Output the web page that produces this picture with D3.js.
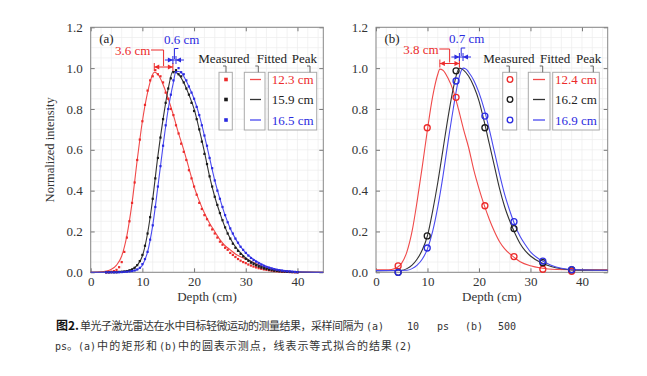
<!DOCTYPE html>
<html><head><meta charset="utf-8">
<script src="https://cdn.jsdelivr.net/npm/d3@7"></script>
<style>body{margin:0;background:#fff}svg{display:block}
.serif{font-family:"Liberation Serif","Times New Roman",Times,serif}
</style>
</head><body><svg id="c" width="647" height="376"></svg>
<script>
// ---------- DATA ----------
const xTicks = [0, 10, 20, 30, 40];
const yTicks = [0.0, 0.2, 0.4, 0.6, 0.8, 1.0, 1.2];
const seriesNames = ["red", "black", "blue"];
const peaksA = [12.3, 15.9, 16.5];
const peaksB = [12.4, 16.2, 16.9];
const peakLabelsA = ["12.3 cm", "15.9 cm", "16.5 cm"];
const peakLabelsB = ["12.4 cm", "16.2 cm", "16.9 cm"];
const diffLabelsA = ["3.6 cm", "0.6 cm"];
const diffLabelsB = ["3.8 cm", "0.7 cm"];

// panel (a) fitted curves
const fitRedA_x = [0,2,3,4,5,6,7,8,9,10,11,12,12.3,13,14,15,16,17,18,19,20,21,22,23,24,25,26,27,28,30,32,34,36,38,40,45];
const fitRedA_y = [0,0.002,0.006,0.015,0.035,0.08,0.18,0.34,0.55,0.74,0.88,0.97,0.98,0.97,0.92,0.85,0.77,0.68,0.6,0.51,0.42,0.35,0.29,0.24,0.2,0.16,0.13,0.11,0.09,0.065,0.042,0.025,0.012,0.005,0.002,0];
const fitBlackA_x = [0,4,6,7,8,9,10,11,12,13,14,15,15.9,17,18,19,20,21,22,23,24,25,26,27,28,29,30,32,34,36,38,40,45];
const fitBlackA_y = [0,0.001,0.004,0.008,0.015,0.035,0.08,0.19,0.36,0.57,0.75,0.9,0.985,0.97,0.93,0.87,0.8,0.7,0.59,0.47,0.37,0.29,0.22,0.165,0.125,0.095,0.07,0.04,0.02,0.01,0.005,0.002,0];
const fitBlueA_x = [0,5,7,8,9,10,11,12,13,14,15,16,16.5,17.5,18,19,20,21,22,23,24,25,26,27,28,29,30,32,34,36,38,40,45];
const fitBlueA_y = [0,0.001,0.003,0.006,0.012,0.035,0.1,0.23,0.42,0.62,0.8,0.93,0.985,0.98,0.96,0.91,0.85,0.77,0.67,0.56,0.45,0.36,0.28,0.215,0.165,0.125,0.095,0.055,0.03,0.015,0.007,0.003,0];

// panel (a) measured (10 ps sampling)
const measA_x = [3,3.5,4,4.5,5,5.5,6,6.5,7,7.5,8,8.5,9,9.5,10,10.5,11,11.5,12,12.5,13,13.5,14,14.5,15,15.5,16,16.5,17,17.5,18,18.5,19,19.5,20,20.5,21,21.5,22,22.5,23,23.5,24,24.5,25,25.5,26,26.5,27,27.5,28,28.5,29,29.5,30,30.5,31,31.5,32,32.5,33,33.5,34,34.5,35,35.5,36,36.5,37,37.5,38,38.5,39,39.5,40];
const measRedA = [0,0,0.003,0.006,0.012,0.025,0.05,0.1,0.17,0.25,0.34,0.44,0.55,0.65,0.74,0.82,0.89,0.94,0.96,0.99,0.97,0.96,0.93,0.88,0.85,0.8,0.77,0.72,0.68,0.63,0.59,0.55,0.5,0.46,0.42,0.38,0.34,0.31,0.28,0.26,0.23,0.21,0.19,0.17,0.15,0.135,0.12,0.11,0.095,0.085,0.075,0.065,0.057,0.05,0.045,0.038,0.033,0.028,0.024,0.02,0.017,0.014,0.012,0.01,0.008,0.006,0.005,0.004,0.003,0.002,0.002,0.001,0.001,0,0];
const measBlackA = [0,0,0,0,0,0.002,0.003,0.004,0.006,0.009,0.014,0.022,0.035,0.055,0.085,0.13,0.19,0.27,0.36,0.46,0.56,0.66,0.75,0.83,0.9,0.95,0.98,0.99,0.97,0.96,0.93,0.9,0.87,0.83,0.79,0.75,0.7,0.64,0.58,0.53,0.47,0.42,0.37,0.33,0.29,0.255,0.22,0.19,0.165,0.14,0.12,0.105,0.09,0.078,0.066,0.056,0.047,0.04,0.034,0.028,0.023,0.019,0.016,0.013,0.01,0.008,0.007,0.005,0.004,0.003,0.002,0.002,0.001,0.001,0];
const measBlueA = [0,0,0,0,0,0,0.001,0.002,0.003,0.004,0.006,0.009,0.014,0.022,0.04,0.065,0.1,0.16,0.23,0.32,0.42,0.52,0.62,0.72,0.8,0.87,0.94,0.98,1.0,0.98,0.97,0.94,0.91,0.88,0.85,0.81,0.77,0.72,0.67,0.62,0.56,0.51,0.45,0.4,0.36,0.32,0.28,0.245,0.215,0.19,0.165,0.145,0.125,0.11,0.095,0.082,0.07,0.06,0.052,0.044,0.037,0.031,0.026,0.022,0.018,0.015,0.012,0.01,0.008,0.006,0.005,0.004,0.003,0.002,0.001];

// panel (b) fitted curves
const fitRedB_x = [0,3,4,5,6,7,8,9,10,11,12,12.4,13,14,15,16,17,18,19,20,21,22,23,24,25,26,27,28,30,32,35,40,45];
const fitRedB_y = [0.012,0.014,0.022,0.045,0.1,0.2,0.35,0.52,0.7,0.86,0.97,0.995,0.99,0.95,0.89,0.8,0.7,0.61,0.5,0.41,0.33,0.26,0.2,0.15,0.115,0.09,0.07,0.052,0.032,0.021,0.014,0.012,0.012];
const fitBlackB_x = [0,5,6,7,8,9,10,11,12,13,14,15,16.2,17,18,19,20,21,22,23,24,25,26,27,28,29,30,32,34,36,38,45];
const fitBlackB_y = [0.008,0.01,0.018,0.035,0.065,0.11,0.18,0.3,0.44,0.6,0.76,0.9,1.0,0.99,0.96,0.91,0.84,0.74,0.63,0.52,0.41,0.32,0.25,0.19,0.14,0.105,0.08,0.048,0.028,0.017,0.012,0.01];
const fitBlueB_x = [0,6,7,8,9,10,11,12,13,14,15,16,16.9,17.5,18,19,20,21,22,23,24,25,26,27,28,29,30,32,34,36,38,45];
const fitBlueB_y = [0.008,0.01,0.018,0.035,0.065,0.115,0.2,0.32,0.47,0.64,0.8,0.94,1.0,0.995,0.98,0.94,0.88,0.8,0.7,0.59,0.48,0.38,0.3,0.23,0.175,0.135,0.1,0.06,0.035,0.02,0.014,0.01];

// panel (b) measured (500 ps sampling)
const measB_x = [4.3, 9.95, 15.55, 21.15, 26.8, 32.4, 38.0];
const measRedB = [0.031, 0.708, 0.857, 0.326, 0.077, 0.015, 0.005];
const measBlackB = [0.0, 0.178, 0.987, 0.708, 0.214, 0.047, 0.012];
const measBlueB = [0.0, 0.119, 0.937, 0.765, 0.248, 0.055, 0.013];

// caption segments: [text, kind]
const captionLine1 = [["图2.", "bold"], ["单光子激光雷达在水中目标轻微运动的测量结果，采样间隔为", "cjk"], ["(a)", "lat"], ["10", "lat"], ["ps", "lat"], ["(b)", "lat"], ["500", "lat"]];
const captionLine2 = [["ps", "lat"], ["。", "cjk"], ["(a)", "lat"], ["中的矩形和", "cjk"], ["(b)", "lat"], ["中的圆表示测点，线表示等式拟合的结果", "cjk"], ["(2)", "lat"]];

// ---------- STYLE ----------
const colors = {red: "#ec2b2b", black: "#1a1a1a", blue: "#2b2be0"};
const fitColors = {red: "#f04a4a", black: "#333333", blue: "#4a4af0"};
const serifFam = '"Liberation Serif","Times New Roman",Times,serif';
const cjk = '"Noto Sans CJK SC","Noto Sans",sans-serif';
const mono = '"DejaVu Sans Mono","Liberation Mono",monospace';

const svg = d3.select("#c");
const zip = (xs, ys) => xs.map((v, i) => [v, ys[i]]);
const stext = (sel) => sel.attr("class", "serif").style("font-family", serifFam).style("font-size", "13px");

const y = d3.scaleLinear().domain([0, 1.2]).range([272.3, 27.3]);

function panel(opts) {
  const x = d3.scaleLinear().domain([0, 45]).range([opts.x0, opts.x1]);
  const g = svg.append("g");
  const gx = d3.range(0, 45.01, 2);
  const gy = d3.range(0, 1.2001, 0.05);
  g.selectAll(".gx").data(gx).join("line")
    .attr("x1", d => x(d)).attr("x2", d => x(d)).attr("y1", y(0)).attr("y2", y(1.2))
    .attr("stroke", "#ececec").attr("stroke-width", 0.7);
  g.selectAll(".gy").data(gy).join("line")
    .attr("y1", d => y(d)).attr("y2", d => y(d)).attr("x1", x(0)).attr("x2", x(45))
    .attr("stroke", "#ececec").attr("stroke-width", 0.7);

  const ax = g.append("g").attr("transform", `translate(0,${y(0)})`)
    .call(d3.axisBottom(x).tickValues(xTicks).tickSize(-4).tickPadding(4).tickFormat(d3.format("d")));
  const axT = g.append("g").attr("transform", `translate(0,${y(1.2)})`)
    .call(d3.axisTop(x).tickValues(xTicks).tickSize(-4).tickFormat(""));
  const ay = g.append("g").attr("transform", `translate(${x(0)},0)`)
    .call(d3.axisLeft(y).tickValues(yTicks).tickSize(-4).tickPadding(8).tickFormat(d3.format(".1f")));
  const ayR = g.append("g").attr("transform", `translate(${x(45)},0)`)
    .call(d3.axisRight(y).tickValues(yTicks).tickSize(-4).tickFormat(""));
  [ax, axT, ay, ayR].forEach(a => {
    a.attr("font-family", null).attr("font-size", null);
    a.select(".domain").remove();
    a.selectAll(".tick line").attr("stroke", "#777");
    stext(a.selectAll("text")).attr("fill", "#333");
  });
  g.append("rect").attr("x", x(0)).attr("y", y(1.2)).attr("width", x(45) - x(0)).attr("height", y(0) - y(1.2))
    .attr("fill", "none").attr("stroke", "#888").attr("stroke-width", 1);

  stext(g.append("text")).attr("x", (x(0) + x(45)) / 2).attr("y", 301).attr("text-anchor", "middle")
    .attr("fill", "#333").text("Depth (cm)");
  if (opts.showY) {
    stext(g.append("text")).attr("transform", `translate(54,${(y(0) + y(1.2)) / 2}) rotate(-90)`)
      .attr("text-anchor", "middle").attr("fill", "#333").style("font-size", "12.5px")
      .text("Normalized intensity");
  }
  stext(g.append("text")).attr("x", x(0) + 8.5).attr("y", 42.5).attr("fill", "#222").text(opts.tag);

  const line = d3.line().x(d => x(d[0])).y(d => y(d[1])).curve(d3.curveMonotoneX);
  const plotG = g.append("g");
  seriesNames.forEach((s, i) => {
    plotG.append("path").datum(opts.fits[i]).attr("d", line).attr("fill", "none")
      .attr("stroke", fitColors[s]).attr("stroke-width", 1.1);
  });
  seriesNames.forEach((s, i) => {
    if (opts.square) {
      plotG.selectAll(null).data(opts.meas[i]).join("rect")
        .attr("x", d => x(d[0]) - 1.1).attr("y", d => y(d[1]) - 1.1).attr("width", 2.2).attr("height", 2.2)
        .attr("fill", colors[s]);
    } else {
      plotG.selectAll(null).data(opts.meas[i]).join("circle")
        .attr("cx", d => x(d[0])).attr("cy", d => y(d[1])).attr("r", 3)
        .attr("fill", "none").attr("stroke", colors[s]).attr("stroke-width", 1.3);
    }
  });

  // annotations
  const p = opts.peaks;
  const ar = opts.annot;
  const xa = x(p[0]), xb = x(p[1]), xc = x(p[2]);
  const ag = g.append("g");
  ag.append("line").attr("x1", xa).attr("x2", xb).attr("y1", ar.ry).attr("y2", ar.ry).attr("stroke", colors.red).attr("stroke-width", 1);
  [[xa, -1], [xb, 1]].forEach(([px, dir]) => {
    ag.append("path").attr("d", `M${px},${ar.ry} L${px - dir * 5},${ar.ry - 2.5} L${px - dir * 5},${ar.ry + 2.5} Z`).attr("fill", colors.red);
    ag.append("line").attr("x1", px).attr("x2", px).attr("y1", ar.ry - 4).attr("y2", ar.ry + 4).attr("stroke", colors.red).attr("stroke-width", 1);
  });
  const xm = x((p[0] + p[1]) / 2);
  stext(ag.append("text")).attr("x", ar.rtx).attr("y", ar.rty).attr("fill", colors.red).text(opts.diffs[0]);
  ag.append("path").attr("d", `M${ar.rtx + 36},${ar.rty - 4.5} H${xm} V${ar.ry - 1}`).attr("fill", "none").attr("stroke", colors.red).attr("stroke-width", 1);
  ag.append("line").attr("x1", xb - 8).attr("x2", xc + 8).attr("y1", ar.by).attr("y2", ar.by).attr("stroke", colors.blue).attr("stroke-width", 1);
  [[xb, 1], [xc, -1]].forEach(([px, dir]) => {
    ag.append("path").attr("d", `M${px},${ar.by} L${px - dir * 5},${ar.by - 2.5} L${px - dir * 5},${ar.by + 2.5} Z`).attr("fill", colors.blue);
    ag.append("line").attr("x1", px).attr("x2", px).attr("y1", ar.by - 4).attr("y2", ar.by + 4).attr("stroke", colors.blue).attr("stroke-width", 1);
  });
  const xm2 = x((p[1] + p[2]) / 2);
  stext(ag.append("text")).attr("x", ar.btx).attr("y", ar.bty).attr("fill", colors.blue).text(opts.diffs[1]);
  ag.append("path").attr("d", `M${xm2 + 4},${ar.bty + 5} H${xm2} V${ar.by - 1}`).attr("fill", "none").attr("stroke", colors.blue).attr("stroke-width", 1);

  // legend
  const L = opts.leg;
  const lg = g.append("g");
  const heads = [["Measured", L.h[0]], ["Fitted", L.h[1]], ["Peak", L.h[2]]];
  heads.forEach(([t, hx]) => stext(lg.append("text")).attr("x", hx).attr("y", 63).attr("fill", "#222").text(t));
  L.boxes.forEach(([bx0, bx1]) => lg.append("rect").attr("x", bx0).attr("y", 72.3).attr("width", bx1 - bx0)
    .attr("height", 57.7).attr("fill", "#fff").attr("stroke", "#aaa").attr("stroke-width", 1));
  L.br.forEach(bx => lg.append("path").attr("d", `M${bx - 3},66 H${bx} V72.3`).attr("fill", "none").attr("stroke", "#666").attr("stroke-width", 1));
  const rows = [79.5, 99.5, 120];
  seriesNames.forEach((s, i) => {
    if (opts.square) {
      lg.append("rect").attr("x", L.mx - 1.8).attr("y", rows[i] - 1.8).attr("width", 3.6).attr("height", 3.6).attr("fill", colors[s]);
    } else {
      lg.append("circle").attr("cx", L.mx).attr("cy", rows[i]).attr("r", 2.8).attr("fill", "none").attr("stroke", colors[s]).attr("stroke-width", 1.3);
    }
    lg.append("line").attr("x1", L.l0).attr("x2", L.l1).attr("y1", rows[i]).attr("y2", rows[i]).attr("stroke", fitColors[s]).attr("stroke-width", 1.3);
    stext(lg.append("text")).attr("x", L.tx).attr("y", rows[i] + 4.5)
      .attr("fill", s === "black" ? "#222" : colors[s]).text(opts.peakLabels[i]);
  });
}

panel({
  x0: 90.7, x1: 323.3, showY: true, tag: "(a)", square: true,
  fits: [zip(fitRedA_x, fitRedA_y), zip(fitBlackA_x, fitBlackA_y), zip(fitBlueA_x, fitBlueA_y)],
  meas: [zip(measA_x, measRedA), zip(measA_x, measBlackA), zip(measA_x, measBlueA)],
  peaks: peaksA, diffs: diffLabelsA, peakLabels: peakLabelsA,
  annot: {ry: 67, rtx: 115, rty: 54.5, by: 60, btx: 164, bty: 43.5},
  leg: {h: [198.3, 256.7, 291.7], boxes: [[219, 232.3], [244.3, 265], [268.3, 316.7]], br: [226, 258.3, 310], mx: 226, l0: 250, l1: 261, tx: 271.7}
});
panel({
  x0: 376, x1: 607.7, showY: false, tag: "(b)", square: false,
  fits: [zip(fitRedB_x, fitRedB_y), zip(fitBlackB_x, fitBlackB_y), zip(fitBlueB_x, fitBlueB_y)],
  meas: [zip(measB_x, measRedB), zip(measB_x, measBlackB), zip(measB_x, measBlueB)],
  peaks: peaksB, diffs: diffLabelsB, peakLabels: peakLabelsB,
  annot: {ry: 63.5, rtx: 403.3, rty: 53.5, by: 57, btx: 449, bty: 43},
  leg: {h: [483.3, 540, 576], boxes: [[502.7, 516.7], [528.3, 550], [552.7, 599.3]], br: [509.3, 542.7, 593.3], mx: 510, l0: 533, l1: 545, tx: 555}
});

// caption (segment start/end positions in px)
const capPos1 = [[56, null], [80, 364], [366, null], [407, null], [437, null], [465, null], [498, null]];
const capPos2 = [[55, null], [67, null], [78, null], [97, 157], [159, null], [178, 392], [394, null]];
const cap = svg.append("g").attr("fill", "#333");
function capLine(segs, pos, yb) {
  segs.forEach(([t, kind], i) => {
    const [x0, x1] = pos[i];
    const el = cap.append("text").attr("x", x0).attr("y", yb).text(t);
    if (kind === "bold") el.style("font-family", cjk).style("font-size", "12px").style("font-weight", "bold").attr("fill", "#111");
    else if (kind === "cjk") {
      el.style("font-family", cjk).style("font-size", "11px");
      if (x1 !== null) el.attr("textLength", x1 - x0).attr("lengthAdjust", "spacing");
    } else el.style("font-family", mono).style("font-size", "10px");
  });
}
capLine(captionLine1, capPos1, 330);
capLine(captionLine2, capPos2, 350);
</script></body></html>
